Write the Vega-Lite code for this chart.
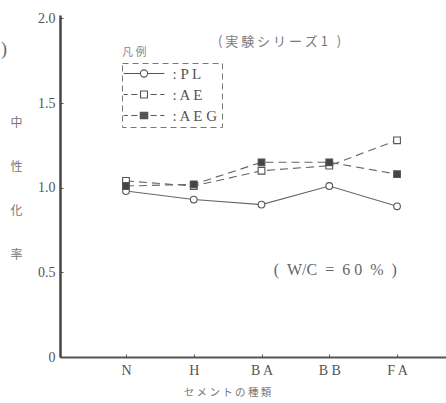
{
  "$schema": "https://vega.github.io/schema/vega-lite/v6.json",
  "width": 386,
  "height": 342,
  "autosize": {"type": "none"},
  "padding": {"left": 60, "top": 15, "right": 0, "bottom": 46},
  "background": "white",
  "config": {
    "view": {"stroke": null},
    "font": "Liberation Serif",
    "legend": {"strokeDash": [6, 4], "strokeColor": "#777", "strokeWidth": 1}
  },
  "data": {
    "values": [
      {"series": "PL", "cement": "N", "value": 0.98},
      {"series": "PL", "cement": "H", "value": 0.93},
      {"series": "PL", "cement": "BA", "value": 0.90},
      {"series": "PL", "cement": "BB", "value": 1.01},
      {"series": "PL", "cement": "FA", "value": 0.89},
      {"series": "AE", "cement": "N", "value": 1.04},
      {"series": "AE", "cement": "H", "value": 1.01},
      {"series": "AE", "cement": "BA", "value": 1.10},
      {"series": "AE", "cement": "BB", "value": 1.13},
      {"series": "AE", "cement": "FA", "value": 1.28},
      {"series": "AEG", "cement": "N", "value": 1.01},
      {"series": "AEG", "cement": "H", "value": 1.02},
      {"series": "AEG", "cement": "BA", "value": 1.15},
      {"series": "AEG", "cement": "BB", "value": 1.15},
      {"series": "AEG", "cement": "FA", "value": 1.08}
    ]
  },
  "encoding": {
    "x": {
      "field": "cement",
      "type": "nominal",
      "sort": null,
      "scale": {"type": "point", "domain": ["N", "H", "BA", "BB", "FA"], "padding": 0.848, "align": 0.574},
      "axis": {
        "title": "セ メ ン ト の 種 類",
        "titleFont": "Noto Sans CJK JP",
        "titleFontSize": 10.5,
        "titleFontWeight": "normal",
        "titleColor": "#777",
        "titleX": 167,
        "titleY": 35,
        "titleAlign": "center",
        "titleBaseline": "middle",
        "labelExpr": "datum.label == 'BA' ? 'B A' : datum.label == 'BB' ? 'B B' : datum.label == 'FA' ? 'F A' : datum.label",
        "labelFont": "Liberation Serif",
        "labelFontSize": 14,
        "labelColor": "#555",
        "labelAngle": 0,
        "labelPadding": 9,
        "domain": true,
        "domainColor": "#555",
        "domainWidth": 2,
        "ticks": true,
        "tickSize": -3,
        "tickColor": "#555",
        "grid": false
      }
    },
    "y": {
      "field": "value",
      "type": "quantitative",
      "scale": {"domain": [0, 2.02], "nice": false, "zero": true},
      "axis": {
        "title": ["中", "性", "化", "率"],
        "titleAngle": 0,
        "titleX": -44,
        "titleY": 107,
        "titleLineHeight": 44,
        "titleFont": "Noto Sans CJK JP",
        "titleFontSize": 12,
        "titleFontWeight": "normal",
        "titleColor": "#777",
        "titleAlign": "center",
        "titleBaseline": "middle",
        "values": [0, 0.5, 1, 1.5, 2],
        "labelExpr": "datum.value == 0 ? '0' : format(datum.value, '.1f')",
        "labelFont": "Liberation Serif",
        "labelFontSize": 14,
        "labelColor": "#555",
        "labelPadding": 8,
        "domainColor": "#444",
        "domainWidth": 2.5,
        "tickSize": -3,
        "tickColor": "#555",
        "grid": false
      }
    }
  },
  "layer": [
    {
      "transform": [{"filter": "datum.series === 'PL'"}],
      "mark": {"type": "line", "color": "#666", "strokeWidth": 1.1}
    },
    {
      "transform": [{"filter": "datum.series !== 'PL'"}],
      "mark": {"type": "line", "color": "#666", "strokeWidth": 1.1, "strokeDash": [8, 5]},
      "encoding": {"detail": {"field": "series"}}
    },
    {
      "mark": {"type": "point", "filled": true, "opacity": 1, "size": 45, "stroke": "#555", "strokeWidth": 1.1},
      "encoding": {
        "shape": {
          "condition": {"test": "datum.series === 'PL'", "value": "circle"},
          "value": "square"
        },
        "fill": {
          "condition": {"test": "datum.series === 'AEG'", "value": "#444"},
          "value": "white"
        }
      }
    },
    {
      "transform": [{"filter": "false"}],
      "mark": {"type": "point", "filled": false, "opacity": 1, "color": "#555", "strokeWidth": 1.1},
      "encoding": {
        "shape": {
          "field": "series",
          "type": "nominal",
          "scale": {
            "domain": ["PL", "AE", "AEG"],
            "range": [
              "M-3.4,0H-0.6M0.6,0H3.4M-0.6,0A0.6,0.6,0,1,1,0.6,0A0.6,0.6,0,1,1,-0.6,0Z",
              "M-3.4,0H-2.7M-2.1,0H-1.1M-0.58,-0.58H0.58V0.58H-0.58ZM1.1,0H2.1M2.7,0H3.4",
              "M-3.4,0H-2.7M-2.1,0H-1.1M-0.62,-0.55H0.62V0.55H-0.62ZM-0.62,-0.37H0.62M-0.62,-0.18H0.62M-0.62,0H0.62M-0.62,0.18H0.62M-0.62,0.37H0.62M1.1,0H2.1M2.7,0H3.4"
            ]
          },
          "legend": {
            "title": null,
            "orient": "none",
            "legendX": 62,
            "legendY": 48,
            "padding": 3,
            "symbolSize": 144,
            "symbolOffset": 11.5,
            "symbolStrokeWidth": 1.1,
            "symbolOpacity": 1,
            "labelOffset": 21,
            "labelFont": "Liberation Serif",
            "labelFontSize": 15,
            "labelColor": "#555",
            "rowPadding": 5,
            "labelExpr": "datum.label == 'PL' ? ': P L' : datum.label == 'AE' ? ': A E' : ': A E G'",
            "strokeColor": "#777"
          }
        }
      }
    },
    {
      "transform": [{"filter": "datum.series === 'PL' && datum.cement === 'N'"}],
      "mark": {"type": "text", "text": "(\u00a0実\u00a0験\u00a0シ\u00a0リ\u00a0ー\u00a0ズ\u00a01\u00a0\u00a0\u00a0)", "font": "Noto Sans CJK JP", "fontSize": 13, "fontWeight": "normal", "color": "#777", "align": "center", "baseline": "middle", "dx": 18},
      "encoding": {"x": {"datum": "BA"}, "y": {"datum": 1.86}}
    },
    {
      "transform": [{"filter": "datum.series === 'PL' && datum.cement === 'N'"}],
      "mark": {"type": "text", "text": "(\u00a0\u00a0W/C\u00a0\u00a0=\u00a0\u00a06\u00a00\u00a0\u00a0%\u00a0\u00a0)", "font": "Liberation Serif", "fontSize": 16, "fontWeight": "normal", "color": "#666", "align": "center", "baseline": "middle", "dx": 6},
      "encoding": {"x": {"datum": "BB"}, "y": {"datum": 0.514}}
    },
    {
      "transform": [{"filter": "datum.series === 'PL' && datum.cement === 'N'"}],
      "mark": {"type": "text", "text": "凡 例", "font": "Noto Sans CJK JP", "fontSize": 11, "fontWeight": "normal", "color": "#888", "align": "left", "baseline": "middle", "dx": -4},
      "encoding": {"x": {"datum": "N"}, "y": {"datum": 1.796}}
    },
    {
      "transform": [{"filter": "datum.series === 'PL' && datum.cement === 'N'"}],
      "mark": {"type": "text", "text": ")", "font": "Liberation Serif", "fontSize": 18, "fontWeight": "normal", "color": "#666", "align": "center", "baseline": "middle", "dx": -122},
      "encoding": {"x": {"datum": "N"}, "y": {"datum": 1.813}}
    }
  ]
}
